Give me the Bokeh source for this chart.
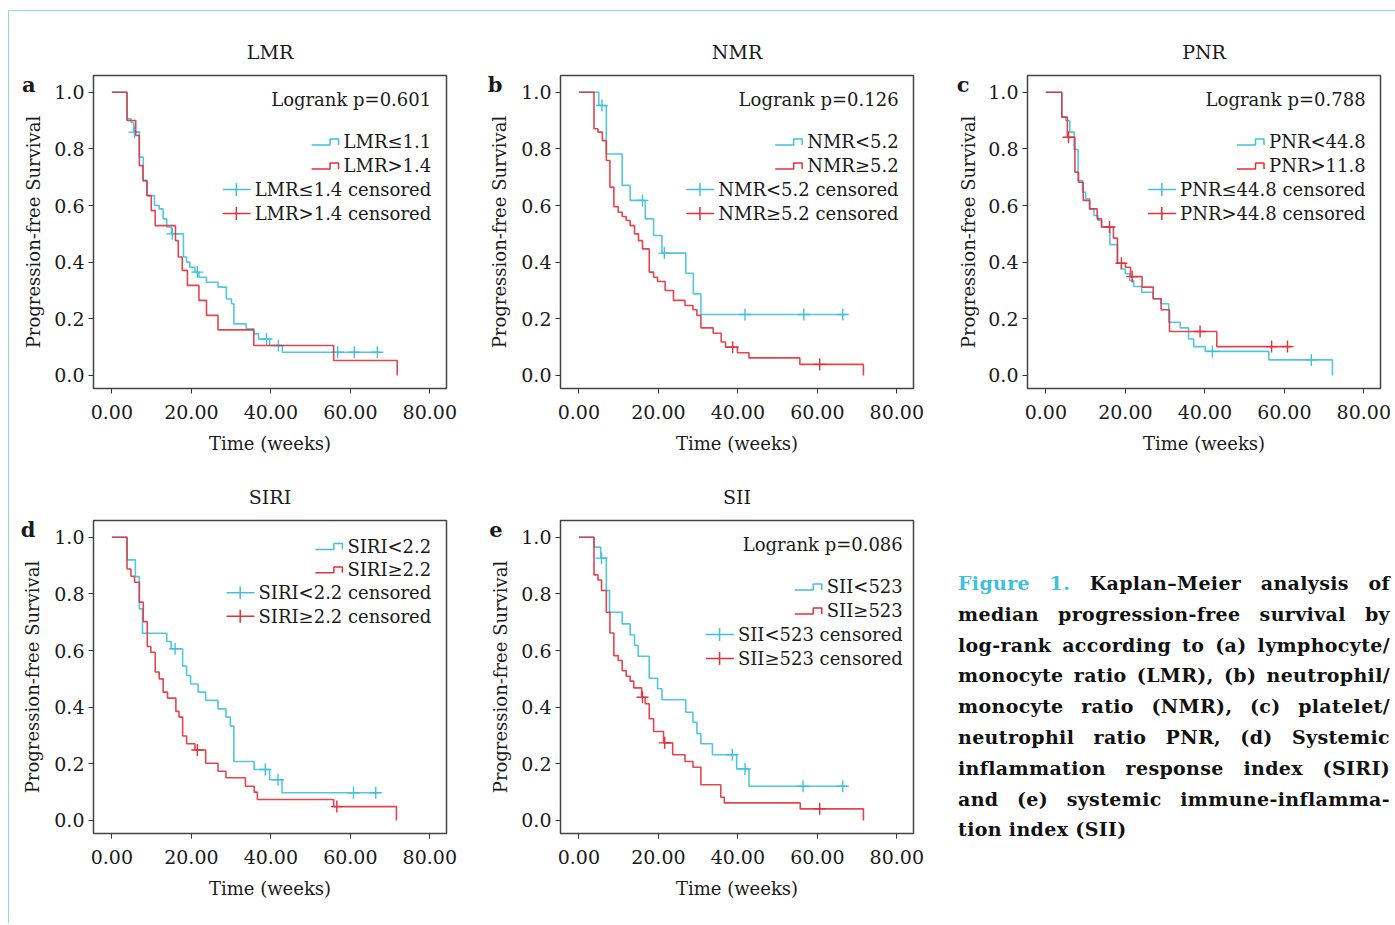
import glob
from bokeh.plotting import figure
from bokeh.models import (Range1d, Label, FixedTicker, NumeralTickFormatter, Div, Spacer,
                          LinearAxis, CustomJSTickFormatter)
from bokeh.layouts import row, column
from bokeh.embed import file_html
from bokeh.resources import INLINE

# ---------------- data ----------------
TIME_TICKS = [0, 20, 40, 60, 80]
SURV_TICKS = [0.0, 0.2, 0.4, 0.6, 0.8, 1.0]
TIME_FORMAT = "0.00"
SURV_FORMAT = "0.0"
X_LABEL = "Time (weeks)"
Y_LABEL = "Progression-free Survival"

# (a) LMR
lmr_low_t = [3.8, 4.8, 5.5, 6.9, 7.9, 8.9, 10.7, 11.9, 12.9, 13.8, 15.0, 18.0, 18.8, 19.6, 20.9,
             21.9, 23.8, 26.7, 28.8, 30.1, 30.7, 33.8, 35.7, 36.9, 39.7, 42.9]
lmr_low_s = [0.906, 0.894, 0.859, 0.771, 0.688, 0.635, 0.600, 0.588, 0.553, 0.524, 0.500, 0.418, 0.400,
             0.382, 0.365, 0.347, 0.329, 0.312, 0.270, 0.253, 0.182, 0.165, 0.147, 0.129, 0.106, 0.082]
lmr_low_cens = [5.7, 15.2, 21.5, 38.9, 41.9, 56.8, 61.0, 66.8]
lmr_low_end = 67.3
lmr_high_t = [3.8, 6.0, 6.9, 7.8, 8.8, 9.9, 10.9, 16.0, 16.7, 17.7, 19.0, 21.9, 23.8, 26.7, 35.7, 55.8, 71.8]
lmr_high_s = [0.900, 0.847, 0.741, 0.688, 0.635, 0.582, 0.529, 0.476, 0.418, 0.371, 0.318, 0.265,
              0.212, 0.161, 0.106, 0.053, 0.0]
lmr_high_cens = []
lmr_high_end = None
lmr_labels = ["LMR\u22641.1", "LMR>1.4", "LMR\u22641.4 censored", "LMR>1.4 censored"]
lmr_p = "Logrank p=0.601"

# (b) NMR
nmr_low_t = [5.0, 6.9, 10.9, 12.9, 16.7, 18.8, 20.9, 26.9, 28.8, 30.7]
nmr_low_s = [0.953, 0.782, 0.671, 0.618, 0.553, 0.494, 0.432, 0.361, 0.288, 0.215]
nmr_low_cens = [5.8, 16.0, 21.5, 41.8, 56.6, 66.4]
nmr_low_end = 67.3
nmr_high_t = [3.8, 4.8, 5.9, 6.9, 7.8, 8.8, 9.9, 10.9, 11.9, 12.9, 14.0, 15.0, 16.0, 17.7, 18.8, 19.8,
              21.7, 23.8, 26.7, 28.7, 29.7, 30.7, 33.8, 35.8, 36.9, 39.9, 42.8, 55.6, 71.6]
nmr_high_s = [0.871, 0.859, 0.829, 0.759, 0.665, 0.596, 0.576, 0.561, 0.547, 0.529, 0.500, 0.476,
              0.447, 0.365, 0.347, 0.332, 0.300, 0.265, 0.247, 0.232, 0.212, 0.168, 0.149, 0.118,
              0.100, 0.080, 0.062, 0.039, 0.0]
nmr_high_cens = [38.7, 60.6]
nmr_high_end = None
nmr_labels = ["NMR<5.2", "NMR\u22655.2", "NMR<5.2 censored", "NMR\u22655.2 censored"]
nmr_p = "Logrank p=0.126"

# (c) PNR
pnr_low_t = [4.0, 5.0, 6.0, 7.1, 8.1, 9.2, 10.0, 11.0, 12.1, 13.1, 14.0, 16.1, 18.0, 19.0, 20.0, 21.1,
             22.1, 24.1, 27.0, 29.0, 30.9, 33.8, 35.9, 37.2, 40.1, 56.1, 72.1]
pnr_low_s = [0.912, 0.900, 0.859, 0.798, 0.688, 0.647, 0.624, 0.588, 0.565, 0.547, 0.524, 0.462, 0.396,
             0.376, 0.359, 0.335, 0.314, 0.294, 0.271, 0.253, 0.188, 0.168, 0.129, 0.102, 0.085,
             0.055, 0.0]
pnr_low_cens = [41.9, 66.8]
pnr_low_end = None
pnr_high_t = [4.0, 5.4, 7.3, 8.2, 9.4, 11.0, 12.9, 14.0, 17.0, 18.0, 20.0, 21.3, 24.2, 27.0, 29.0, 31.1, 43.0]
pnr_high_s = [0.912, 0.841, 0.718, 0.682, 0.618, 0.588, 0.553, 0.524, 0.485, 0.396, 0.382, 0.349,
              0.312, 0.271, 0.232, 0.155, 0.102]
pnr_high_cens = [5.7, 16.0, 19.0, 21.7, 38.8, 56.8, 60.8]
pnr_high_end = 61.8
pnr_labels = ["PNR<44.8", "PNR>11.8", "PNR\u226444.8 censored", "PNR>44.8 censored"]
pnr_p = "Logrank p=0.788"

# (d) SIRI
siri_low_t = [3.8, 5.9, 6.9, 7.7, 13.8, 14.9, 17.8, 18.8, 19.8, 21.7, 23.6, 26.7, 28.7, 29.8, 30.7,
              35.8, 39.7, 42.8]
siri_low_s = [0.920, 0.861, 0.747, 0.661, 0.632, 0.606, 0.545, 0.512, 0.482, 0.453, 0.424, 0.394,
              0.365, 0.333, 0.208, 0.180, 0.144, 0.098]
siri_low_cens = [15.9, 38.6, 41.8, 60.8, 66.4]
siri_low_end = 67.1
siri_high_t = [3.8, 4.8, 5.7, 6.9, 7.9, 8.9, 9.8, 10.9, 11.9, 12.9, 14.0, 16.1, 16.9, 17.8, 18.8, 20.9,
               23.6, 26.7, 28.7, 33.6, 35.8, 36.6, 55.8, 71.6]
siri_high_s = [0.888, 0.862, 0.841, 0.771, 0.702, 0.614, 0.594, 0.524, 0.500, 0.453, 0.432, 0.385,
               0.365, 0.298, 0.271, 0.249, 0.202, 0.174, 0.151, 0.121, 0.100, 0.074, 0.049, 0.0]
siri_high_cens = [21.5, 56.6]
siri_high_end = None
siri_labels = ["SIRI<2.2", "SIRI\u22652.2", "SIRI<2.2 censored", "SIRI\u22652.2 censored"]
siri_p = None

# (e) SII
sii_low_t = [3.8, 5.5, 6.9, 7.7, 10.9, 12.9, 14.0, 14.9, 17.7, 19.8, 20.9, 26.9, 28.7, 29.7, 30.7,
             33.6, 39.7, 42.8]
sii_low_s = [0.965, 0.926, 0.812, 0.735, 0.694, 0.655, 0.618, 0.580, 0.502, 0.465, 0.426, 0.382,
             0.347, 0.306, 0.271, 0.232, 0.182, 0.121]
sii_low_cens = [5.7, 38.6, 41.8, 56.4, 66.4]
sii_low_end = 67.3
sii_high_t = [3.8, 4.8, 5.7, 6.9, 7.8, 8.8, 9.9, 10.9, 11.9, 12.9, 13.8, 15.8, 16.7, 17.7, 18.8, 21.3,
              23.6, 26.7, 28.7, 30.7, 35.7, 36.6, 55.7, 71.6]
sii_high_s = [0.867, 0.849, 0.812, 0.735, 0.662, 0.582, 0.565, 0.529, 0.509, 0.492, 0.468, 0.435,
              0.412, 0.359, 0.314, 0.274, 0.232, 0.208, 0.188, 0.126, 0.082, 0.062, 0.041, 0.0]
sii_high_cens = [16.0, 21.6, 60.6]
sii_high_end = None
sii_labels = ["SII<523", "SII\u2265523", "SII<523 censored", "SII\u2265523 censored"]
sii_p = "Logrank p=0.086"

caption_lines = [
    "Kaplan\u2013Meier analysis of",
    "median progression-free survival by",
    "log-rank according to (a) lymphocyte/",
    "monocyte ratio (LMR), (b) neutrophil/",
    "monocyte ratio (NMR), (c) platelet/",
    "neutrophil ratio PNR, (d) Systemic",
    "inflammation response index (SIRI)",
    "and (e) systemic immune-inflamma-",
    "tion index (SII)",
]
caption_head = "Figure 1."

# ---------------- style ----------------
CYAN = "#3fc1dd"
RED = "#e0323c"
TXT = "#1a1a1a"
FONT = "DejaVu Serif"
FS = 18
TICK_FS = 19
XR = (-4.63, 84.2)
YR = (-0.046, 1.059)
FRAME_W, FRAME_H = 353, 313
XS = FRAME_W / (XR[1] - XR[0])
YS = FRAME_H / (YR[1] - YR[0])


def find_font(patterns):
    for pat in patterns:
        for root in ("/usr/share/fonts", "/usr/local/share/fonts", "/usr/lib"):
            hits = glob.glob(root + "/**/" + pat, recursive=True)
            if hits:
                return hits[0]
    return None


try:
    from PIL import ImageFont
except Exception:
    ImageFont = None

SERIF_PATH = find_font(["DejaVuSerif.ttf"])


def text_width(s, size, path, fallback=0.6):
    if ImageFont is not None and path:
        try:
            return ImageFont.truetype(path, 100).getlength(s) * size / 100.0
        except Exception:
            pass
    return fallback * size * len(s)


def step_path(t, s, t_end):
    xs, ys = [0.0], [1.0]
    for ti, si in zip(t, s):
        xs += [ti, ti]
        ys += [ys[-1], si]
    if t_end is not None and t_end > xs[-1]:
        xs.append(t_end)
        ys.append(ys[-1])
    return xs, ys


def surv_at(t, s, tc):
    level = 1.0
    for ti, si in zip(t, s):
        if ti <= tc:
            level = si
    return level


def make_panel(title, letter, low, high, labels, ptext, right_x, dys, width, border_right):
    p = figure(width=width, height=445, x_range=Range1d(*XR), y_range=Range1d(*YR),
               output_backend="svg", toolbar_location=None, title=title,
               min_border_left=84, min_border_right=border_right,
               min_border_top=64, min_border_bottom=66,
               background_fill_color="white", border_fill_color="white")
    p.title.align = "center"
    p.title.text_font = FONT
    p.title.text_font_size = f"{FS+1}px"
    p.title.text_font_style = "normal"
    p.title.text_color = TXT
    p.title.standoff = 25
    p.grid.visible = False
    p.outline_line_color = "#444444"
    p.outline_line_width = 1.5

    p.xaxis.ticker = FixedTicker(ticks=TIME_TICKS)
    p.xaxis.formatter = NumeralTickFormatter(format=TIME_FORMAT)
    p.yaxis.ticker = FixedTicker(ticks=SURV_TICKS)
    p.yaxis.formatter = NumeralTickFormatter(format=SURV_FORMAT)
    p.xaxis.axis_label = X_LABEL

    # extra left axis carrying the panel letter and the y-axis title
    lax = LinearAxis(ticker=FixedTicker(ticks=[1.028]),
                     formatter=CustomJSTickFormatter(args=dict(t=letter), code="return t"),
                     axis_label=Y_LABEL)
    p.add_layout(lax, "left")

    for ax in (p.xaxis[0], p.yaxis[0], lax):
        ax.axis_line_color = None
        ax.major_tick_line_color = "#333333"
        ax.major_tick_in = 0
        ax.major_tick_out = 5
        ax.minor_tick_line_color = None
        ax.major_label_text_font = FONT
        ax.major_label_text_font_size = f"{TICK_FS}px"
        ax.major_label_text_color = TXT
        ax.axis_label_text_font = FONT
        ax.axis_label_text_font_size = f"{FS}px"
        ax.axis_label_text_font_style = "normal"
        ax.axis_label_text_color = TXT
    lax.major_tick_line_color = None
    lax.major_tick_out = 0
    lax.major_label_text_font_style = "bold"
    lax.major_label_text_font_size = "21px"
    lax.major_label_standoff = 16
    lax.axis_label_standoff = -25
    p.xaxis.major_label_standoff = 11
    p.xaxis.axis_label_standoff = 11
    p.yaxis[0].major_label_standoff = 4

    for (t, s, cens, t_end), color in zip((low, high), (CYAN, RED)):
        xs, ys = step_path(t, s, t_end)
        p.line(xs, ys, color=color, line_width=1.6, line_alpha=0.9)
        if cens:
            cy = [surv_at(t, s, c) for c in cens]
            p.scatter(cens, cy, marker="cross", size=12, line_color=color, line_width=1.4)

    entries = []
    if ptext:
        entries.append((ptext, None, None))
    entries += [(labels[0], CYAN, "step"), (labels[1], RED, "step"),
                (labels[2], CYAN, "cross"), (labels[3], RED, "cross")]
    for (text, color, kind), dy in zip(entries, dys):
        y = 1.0 - dy / YS
        p.add_layout(Label(x=right_x, y=y, text=text, text_align="right", text_baseline="middle",
                           text_font=FONT, text_font_size=f"{FS}px", text_color=TXT))
        if kind is None:
            continue
        w = text_width(text, FS, SERIF_PATH)
        left = right_x - w / XS
        if kind == "step":
            xs = [left - 32 / XS, left - 13.5 / XS, left - 13.5 / XS, left - 5 / XS, left - 5 / XS]
            ys = [y - 3.2 / YS, y - 3.2 / YS, y + 2.6 / YS, y + 2.6 / YS, y - 3.2 / YS]
            p.line(xs, ys, color=color, line_width=1.5)
        else:
            p.line([left - 32 / XS, left - 4 / XS], [y, y], color=color, line_width=1.5)
            p.line([left - 18.3 / XS] * 2, [y - 6.5 / YS, y + 6.5 / YS], color=color, line_width=1.5)
    return p


ROW1_DY = [7.3, 49.5, 73.5, 97.3, 121.3]
ROW2_DY_D = [9.0, 32.3, 55.6, 79.0]

pa = make_panel("LMR", "a", (lmr_low_t, lmr_low_s, lmr_low_cens, lmr_low_end),
                (lmr_high_t, lmr_high_s, lmr_high_cens, lmr_high_end), lmr_labels, lmr_p,
                80.35, ROW1_DY, 467, 30)
pb = make_panel("NMR", "b", (nmr_low_t, nmr_low_s, nmr_low_cens, nmr_low_end),
                (nmr_high_t, nmr_high_s, nmr_high_cens, nmr_high_end), nmr_labels, nmr_p,
                80.45, ROW1_DY, 467, 30)
pc = make_panel("PNR", "c", (pnr_low_t, pnr_low_s, pnr_low_cens, pnr_low_end),
                (pnr_high_t, pnr_high_s, pnr_high_cens, pnr_high_end), pnr_labels, pnr_p,
                80.45, ROW1_DY, 449, 12)
pd_ = make_panel("SIRI", "d", (siri_low_t, siri_low_s, siri_low_cens, siri_low_end),
                 (siri_high_t, siri_high_s, siri_high_cens, siri_high_end), siri_labels, siri_p,
                 80.35, ROW2_DY_D, 467, 30)
pe = make_panel("SII", "e", (sii_low_t, sii_low_s, sii_low_cens, sii_low_end),
                (sii_high_t, sii_high_s, sii_high_cens, sii_high_end), sii_labels, sii_p,
                81.5, ROW1_DY, 467, 30)

# caption
CAP_FS = 19
CAP_LS = 0.35
CAP_W = 432
parts = []
for i, line in enumerate(caption_lines):
    if i == 0:
        line = f'<span style="color:{CYAN}">{caption_head}</span> ' + line
    align = ("text-align:justify;text-align-last:justify;" if i < len(caption_lines) - 1
             else "text-align:left;")
    parts.append(f'<div style="{align}white-space:nowrap;">{line}</div>')
cap_html = (f'<div style="font-family:\'DejaVu Serif\';font-weight:bold;font-size:{CAP_FS}px;'
            f'letter-spacing:{CAP_LS}px;line-height:30.8px;color:#111;width:{CAP_W}px;">'
            + "".join(parts) + "</div>")
cap = Div(text=cap_html, width=449, height=445,
          styles={"padding-top": "107px", "padding-left": "10px", "box-sizing": "border-box"})

layout = column(row(pa, pb, pc), row(pd_, pe, cap), Spacer(height=12),
                styles={"border-top": "1px solid #8dd8e9", "border-left": "1px solid #8dd8e9",
                        "margin-top": "10px", "margin-left": "8px"})

open("out.html", "w").write(file_html(layout, INLINE))
